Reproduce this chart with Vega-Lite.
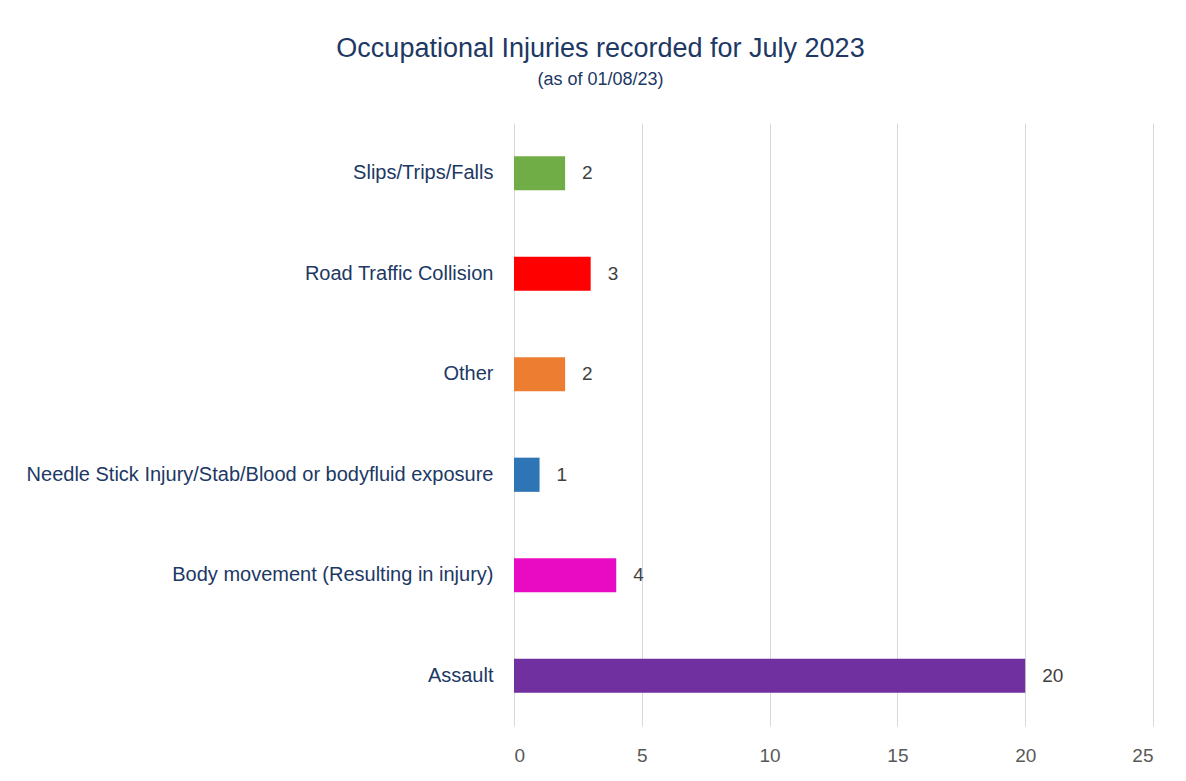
{
  "$schema": "https://vega.github.io/schema/vega-lite/v6.json",
  "autosize": {"type": "none"},
  "padding": {"left": 514, "top": 123, "right": 33, "bottom": 55},
  "width": 639,
  "height": 603,
  "background": "white",
  "title": {
    "text": "Occupational Injuries recorded for July 2023",
    "subtitle": "(as of 01/08/23)",
    "anchor": "middle",
    "frame": "group",
    "dx": -233,
    "offset": 33,
    "font": "Liberation Sans, sans-serif",
    "fontSize": 27,
    "fontWeight": "normal",
    "color": "#203864",
    "subtitleFont": "Liberation Sans, sans-serif",
    "subtitleFontSize": 18,
    "subtitleColor": "#203864",
    "subtitlePadding": 8
  },
  "data": {
    "values": [
      {"category": "Slips/Trips/Falls", "count": 2},
      {"category": "Road Traffic Collision", "count": 3},
      {"category": "Other", "count": 2},
      {"category": "Needle Stick Injury/Stab/Blood or bodyfluid exposure", "count": 1},
      {"category": "Body movement (Resulting in injury)", "count": 4},
      {"category": "Assault", "count": 20}
    ]
  },
  "encoding": {
    "y": {
      "field": "category",
      "type": "nominal",
      "sort": null,
      "scale": {"paddingInner": 0.66, "paddingOuter": 0.33},
      "axis": {
        "title": null,
        "domain": false,
        "ticks": false,
        "grid": false,
        "labelPadding": 21,
        "labelFont": "Liberation Sans, sans-serif",
        "labelFontSize": 20,
        "labelColor": "#203864",
        "labelLimit": 700
      }
    },
    "x": {
      "field": "count",
      "type": "quantitative",
      "scale": {"domain": [0, 25], "nice": false},
      "axis": {
        "title": null,
        "values": [0, 5, 10, 15, 20, 25],
        "domain": false,
        "ticks": false,
        "grid": true,
        "gridColor": "#D9D9D9",
        "gridWidth": 1,
        "labelPadding": 20,
        "labelFont": "Liberation Sans, sans-serif",
        "labelFontSize": 19,
        "labelColor": "#595959"
      }
    }
  },
  "layer": [
    {
      "mark": {"type": "bar"},
      "encoding": {
        "color": {
          "field": "category",
          "type": "nominal",
          "legend": null,
          "scale": {
            "domain": ["Slips/Trips/Falls", "Road Traffic Collision", "Other", "Needle Stick Injury/Stab/Blood or bodyfluid exposure", "Body movement (Resulting in injury)", "Assault"],
            "range": ["#70AD47", "#FF0000", "#ED7D31", "#2E75B6", "#E80BC3", "#7030A0"]
          }
        }
      }
    },
    {
      "mark": {"type": "text", "align": "left", "dx": 17, "font": "Liberation Sans, sans-serif", "fontSize": 19, "color": "#404040"},
      "encoding": {"text": {"field": "count", "type": "quantitative"}}
    }
  ],
  "config": {"view": {"stroke": null}}
}
